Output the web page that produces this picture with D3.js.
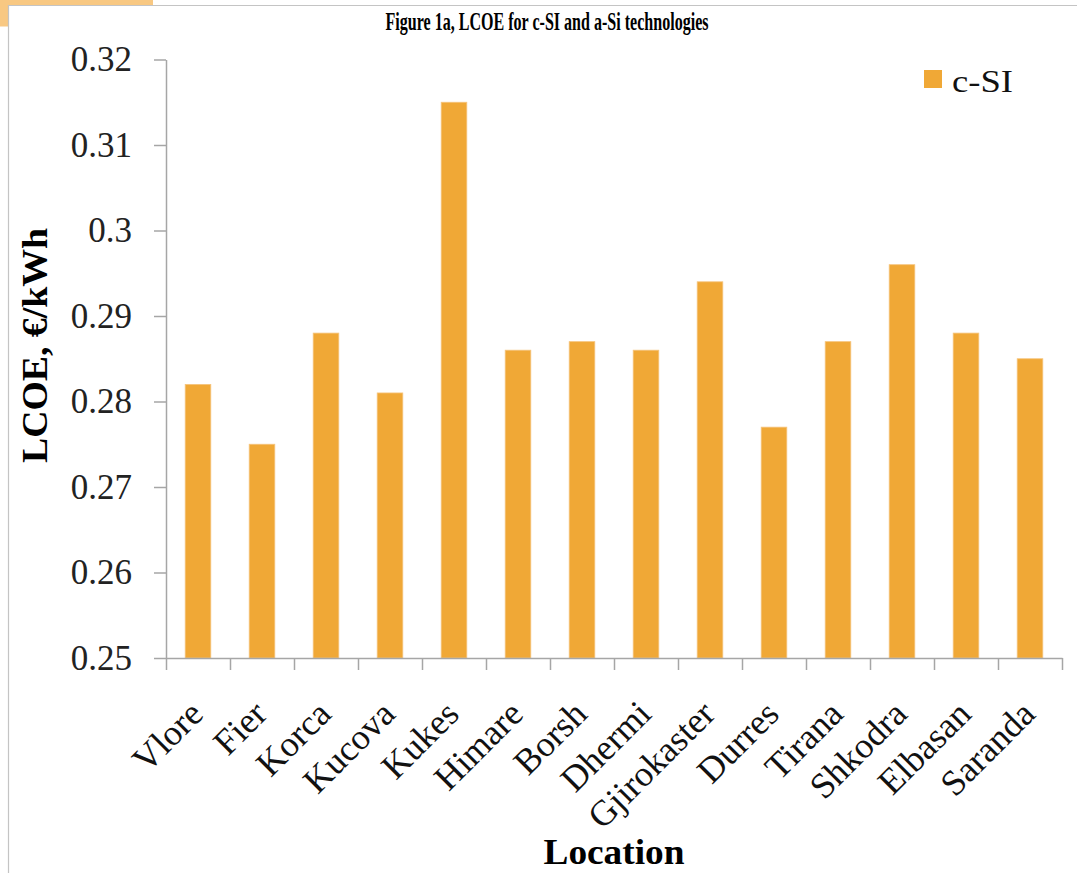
<!DOCTYPE html>
<html><head><meta charset="utf-8">
<script src="https://cdn.jsdelivr.net/npm/d3@7"></script>
<style>body{margin:0;background:#fff;overflow:hidden} svg{display:block}</style>
</head><body><svg id="c" width="1077" height="873"></svg>
<script>
const categories = ["Vlore","Fier","Korca","Kucova","Kukes","Himare","Borsh","Dhermi","Gjirokaster","Durres","Tirana","Shkodra","Elbasan","Saranda"];
const cSI = [0.282,0.275,0.288,0.281,0.315,0.286,0.287,0.286,0.294,0.277,0.287,0.296,0.288,0.285];
const yTicks = [0.25,0.26,0.27,0.28,0.29,0.30,0.31,0.32];
const yTickLabels = ["0.25","0.26","0.27","0.28","0.29","0.3","0.31","0.32"];
const seriesName = "c-SI";
const chartTitle = "Figure 1a, LCOE for c-SI and a-Si technologies";
const xTitle = "Location";
const yTitle = "LCOE, €/kWh";

const svg = d3.select("#c");
const serif = "'Liberation Serif','Times New Roman',serif";
const axisCol = "#a6a6a6";
const barCol = "#f0a836";

// frame / tab
svg.append("rect").attr("x",0).attr("y",0).attr("width",153).attr("height",5.5).attr("fill","#f8c882");
svg.append("rect").attr("x",0).attr("y",0).attr("width",8).attr("height",26.5).attr("fill","#f8c882");
svg.append("path").attr("d","M8.5,873V5.5H1077").attr("fill","none").attr("stroke","#c4c4c4").attr("stroke-width",1.2);

const x = d3.scaleBand().domain(categories).range([166,1062]).paddingInner(0.6).paddingOuter(0.3);
const xEdge = d3.scaleLinear().domain([0,categories.length]).range([166,1062]);
const y = d3.scaleLinear().domain([0.25,0.32]).range([658,59.5]);

// bars
svg.append("g").selectAll("rect").data(cSI).join("rect")
  .attr("x",(d,i)=>x(categories[i]))
  .attr("y",d=>y(d))
  .attr("width",x.bandwidth())
  .attr("height",d=>y(0.25)-y(d))
  .attr("fill",barCol)
  .attr("stroke","#f6c47c").attr("stroke-width",0.8);

// y axis
const ya = svg.append("g").attr("transform","translate(166,0)")
  .call(d3.axisLeft(y).tickValues(yTicks).tickSize(12).tickSizeOuter(0).tickPadding(22)
    .tickFormat((d,i)=>yTickLabels[i]));
ya.selectAll("path,line").attr("stroke",axisCol).attr("stroke-width",1.5);
ya.selectAll("text").attr("font-family",serif).attr("font-size",35).attr("fill","#222");

// x axis
const xa = svg.append("g").attr("transform","translate(0,658)")
  .call(d3.axisBottom(xEdge).tickValues(d3.range(categories.length+1)).tickSize(12).tickSizeOuter(0).tickFormat(""));
xa.selectAll("path,line").attr("stroke",axisCol).attr("stroke-width",1.5);

// x labels
svg.append("g").selectAll("text").data(categories).join("text")
  .attr("transform",d=>`translate(${x(d)+x.bandwidth()/2+7},716) rotate(-45)`)
  .attr("text-anchor","end")
  .attr("font-family",serif).attr("font-size",36).attr("fill","#111")
  .text(d=>d);

// titles
svg.append("text").attr("x",547).attr("y",30).attr("text-anchor","middle")
  .attr("font-family",serif).attr("font-weight","bold").attr("font-size",25)
  .attr("textLength",323).attr("lengthAdjust","spacingAndGlyphs").text(chartTitle);
svg.append("text").attr("x",614).attr("y",864).attr("text-anchor","middle")
  .attr("font-family",serif).attr("font-weight","bold").attr("font-size",36)
  .attr("textLength",141).attr("lengthAdjust","spacingAndGlyphs").text(xTitle);
svg.append("text").attr("transform","translate(47,345.5) rotate(-90)").attr("text-anchor","middle")
  .attr("font-family",serif).attr("font-weight","bold").attr("font-size",36)
  .attr("textLength",235).attr("lengthAdjust","spacingAndGlyphs").text(yTitle);

// legend
svg.append("rect").attr("x",924).attr("y",70).attr("width",18).attr("height",18).attr("fill",barCol);
svg.append("text").attr("x",952).attr("y",92).attr("font-family",serif).attr("font-size",31)
  .attr("textLength",61).attr("lengthAdjust","spacingAndGlyphs").attr("fill","#111").text(seriesName);
</script></body></html>
